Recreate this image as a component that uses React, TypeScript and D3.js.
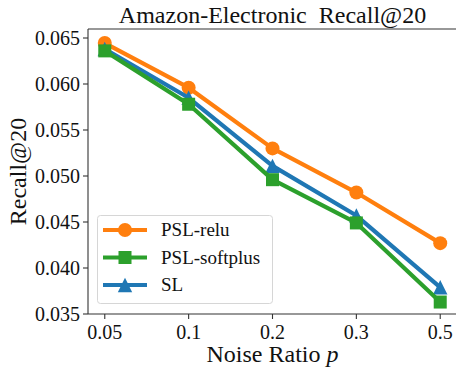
import React from "react";
import * as d3 from "d3";

const noiseRatios = ["0.05", "0.1", "0.2", "0.3", "0.5"];
const pslRelu = [0.06445, 0.0596, 0.0530, 0.0482, 0.0427];
const pslSoftplus = [0.0636, 0.0578, 0.0496, 0.0449, 0.0363];
const sl = [0.0638, 0.0585, 0.0511, 0.0457, 0.0379];
const yTicks = [0.035, 0.04, 0.045, 0.05, 0.055, 0.06, 0.065];

const W = 456;
const H = 373;
const margin = { left: 88, right: 457, top: 29, bottom: 314 };
const FONT = "'Liberation Serif', 'Times New Roman', serif";

type Series = { name: string; values: number[]; color: string; marker: "circle" | "square" | "triangle" };

const seriesList: Series[] = [
  { name: "PSL-relu", values: pslRelu, color: "#ff7f0e", marker: "circle" },
  { name: "SL", values: sl, color: "#1f77b4", marker: "triangle" },
  { name: "PSL-softplus", values: pslSoftplus, color: "#2ca02c", marker: "square" },
];
const legendOrder = ["PSL-relu", "PSL-softplus", "SL"];

function Marker({ kind, x, y, color }: { kind: string; x: number; y: number; color: string }) {
  if (kind === "circle") return <circle cx={x} cy={y} r={7} fill={color} />;
  if (kind === "square") return <rect x={x - 6.5} y={y - 6.5} width={13} height={13} fill={color} />;
  const s = 7.2;
  return <path d={`M${x},${y - s}L${x - s},${y + s}L${x + s},${y + s}Z`} fill={color} />;
}

export default function App() {
  const x = d3.scaleLinear().domain([-0.2, 4.2]).range([margin.left, margin.right]);
  const y = d3.scaleLinear().domain([0.035, 0.065]).range([314, 38]);
  const line = d3
    .line<number>()
    .x((_, i) => x(i))
    .y((d) => y(d));

  const axisColor = "#333";
  return (
    <svg width={W} height={H} style={{ position: "absolute", left: 0, top: 0 }} fontFamily={FONT}>
      <rect width={W} height={H} fill="white" />
      {/* series */}
      {seriesList.map((s) => (
        <g key={s.name}>
          <path d={line(s.values) || ""} fill="none" stroke={s.color} strokeWidth={4.2} strokeLinejoin="round" />
          {s.values.map((v, i) => (
            <Marker key={i} kind={s.marker} x={x(i)} y={y(v)} color={s.color} />
          ))}
        </g>
      ))}
      {/* spines */}
      <g stroke={axisColor} strokeWidth={1.1} fill="none">
        <line x1={margin.left} x2={margin.left} y1={margin.top} y2={margin.bottom} />
        <line x1={margin.left} x2={margin.right} y1={margin.bottom} y2={margin.bottom} />
        <line x1={margin.left} x2={margin.right} y1={margin.top} y2={margin.top} />
        <line x1={margin.right} x2={margin.right} y1={margin.top} y2={margin.bottom} />
      </g>
      {/* y ticks */}
      {yTicks.map((t) => (
        <g key={t}>
          <line x1={margin.left - 5} x2={margin.left} y1={y(t)} y2={y(t)} stroke={axisColor} strokeWidth={1.1} />
          <text x={margin.left - 8} y={y(t)} dy="0.34em" textAnchor="end" fontSize={20} fill="#111">
            {t.toFixed(3)}
          </text>
        </g>
      ))}
      {/* x ticks */}
      {noiseRatios.map((lab, i) => (
        <g key={lab}>
          <line x1={x(i)} x2={x(i)} y1={margin.bottom} y2={margin.bottom + 5} stroke={axisColor} strokeWidth={1.1} />
          <text x={x(i)} y={margin.bottom + 25} textAnchor="middle" fontSize={20} fill="#111">
            {lab}
          </text>
        </g>
      ))}
      {/* title and axis labels */}
      <text x={(margin.left + margin.right) / 2} y={23} textAnchor="middle" fontSize={24} fill="#111" style={{ whiteSpace: "pre" }}>
        {"Amazon-Electronic  Recall@20"}
      </text>
      <text
        transform={`translate(26,${(margin.top + margin.bottom) / 2}) rotate(-90)`}
        textAnchor="middle"
        fontSize={24}
        fill="#111"
      >
        Recall@20
      </text>
      <text x={(margin.left + margin.right) / 2} y={362} textAnchor="middle" fontSize={24} fill="#111">
        Noise Ratio <tspan fontStyle="italic">p</tspan>
      </text>
      {/* legend */}
      <g>
        <rect x={97.5} y={215.5} width={175} height={88} rx={3} fill="white" fillOpacity={0.8} stroke="#d6d6d6" strokeWidth={1} />
        {legendOrder.map((name, i) => {
          const s = seriesList.find((d) => d.name === name)!;
          const ly = 230 + i * 27.5;
          return (
            <g key={name}>
              <line x1={103} x2={147} y1={ly} y2={ly} stroke={s.color} strokeWidth={4.2} />
              <Marker kind={s.marker} x={125} y={ly} color={s.color} />
              <text x={161} y={ly} dy="0.34em" fontSize={19} fill="#111">
                {name}
              </text>
            </g>
          );
        })}
      </g>
    </svg>
  );
}
